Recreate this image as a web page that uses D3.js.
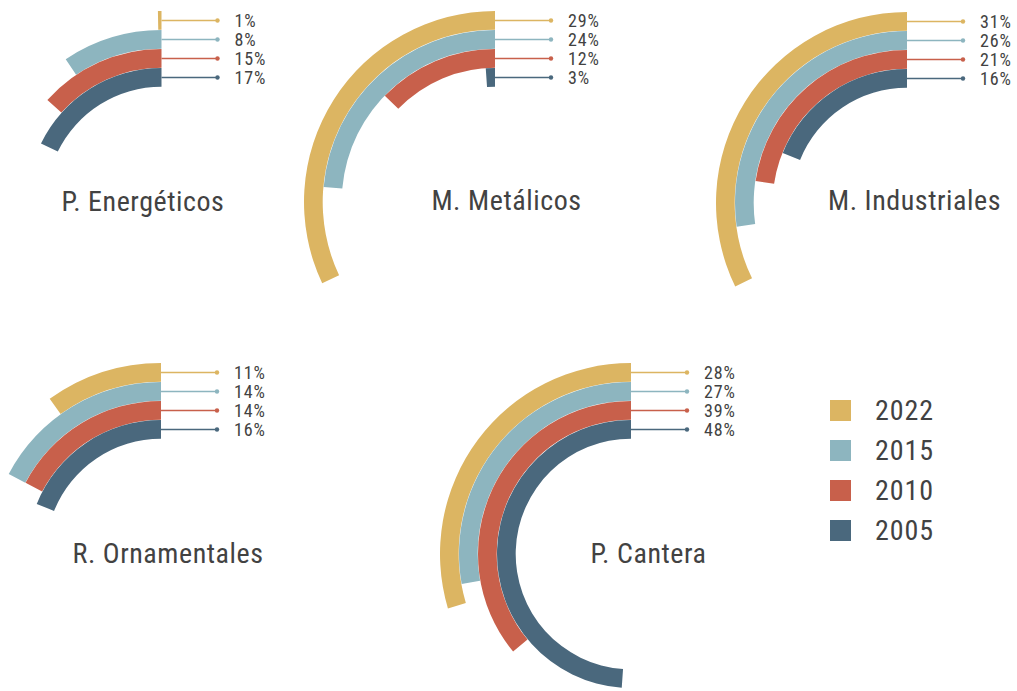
<!DOCTYPE html>
<html><head><meta charset="utf-8">
<script src="https://cdn.jsdelivr.net/npm/d3@7"></script>
<style>
html,body{margin:0;padding:0;background:#fff;}
text{font-family:"Roboto Condensed",Roboto,"Liberation Sans",sans-serif;fill:#424242;letter-spacing:0.9px;}
text.title{letter-spacing:0.55px;}
</style></head>
<body><svg id="c" width="1017" height="691"></svg>
<script>
// ---- data ----
const categories = ["P. Energéticos","M. Metálicos","M. Industriales","R. Ornamentales","P. Cantera"];
const years = ["2022","2015","2010","2005"];
const colors = ["#DCB562","#8DB5BF","#C8604B","#4A687D"];
// printed percentage labels
const pct2022 = [1, 29, 31, 11, 28];
const pct2015 = [8, 24, 26, 14, 27];
const pct2010 = [15, 12, 21, 14, 39];
const pct2005 = [17, 3, 16, 16, 48];
// arc length as share of a full turn (%)
const arc2022 = [0.3, 32.0, 32.2, 9.9, 29.6];
const arc2015 = [9.4, 23.6, 27.2, 17.3, 27.8];
const arc2010 = [13.4, 12.8, 22.7, 17.3, 36.0];
const arc2005 = [17.8, 1.1, 18.9, 18.9, 48.9];

// ---- layout (not data) ----
const centers = [[161.5,202],[495,202],[907,203],[161,554],[631,554]];
const titleX = [143, 506.5, 914.5, 168, 648.5];
const titleY = [211, 210, 210, 563, 563];

const pctBy = [pct2022, pct2015, pct2010, pct2005];
const arcBy = [arc2022, arc2015, arc2010, arc2005];

const svg = d3.select("#c");
const angle = d3.scaleLinear().domain([0,100]).range([0, 2*Math.PI]);
const radius = d3.scaleBand().domain(years).range([191,115]).paddingInner(0);
const color = d3.scaleOrdinal().domain(years).range(colors);
const bw = radius.bandwidth();
const arc = d3.arc();

categories.forEach((cat, ci) => {
  const [cx, cy] = centers[ci];
  const g = svg.append("g").attr("transform", `translate(${cx},${cy})`);
  const rows = years.map((y, yi) => ({year: y, pct: pctBy[yi][ci], arc: arcBy[yi][ci]}));
  g.selectAll("path.band").data(rows).join("path")
    .attr("class","band")
    .attr("fill", d => color(d.year))
    .attr("d", d => arc({innerRadius: radius(d.year)+0.3, outerRadius: radius(d.year)+bw,
                         startAngle: 0, endAngle: -angle(d.arc)}));
  const lead = g.selectAll("g.lead").data(rows).join("g").attr("class","lead")
    .attr("transform", d => `translate(0,${-(radius(d.year)+bw/2)})`);
  lead.append("line").attr("x1",0).attr("x2",56).attr("y1",0).attr("y2",0)
    .attr("stroke", d => color(d.year)).attr("stroke-width",1.4);
  lead.append("circle").attr("cx",56).attr("cy",0).attr("r",2.2).attr("fill", d => color(d.year));
  lead.append("text").attr("x",73).attr("y",6)
    .attr("font-size",18).text(d => d.pct + "%");
  svg.append("text").attr("class","title")
    .attr("x", titleX[ci]).attr("y", titleY[ci])
    .attr("text-anchor","middle").attr("font-size",28).text(cat);
});

// legend
const leg = svg.append("g").attr("transform","translate(830,400)");
const li = leg.selectAll("g").data(years).join("g")
  .attr("transform", (d,i) => `translate(0,${i*40})`);
li.append("rect").attr("width",21).attr("height",21).attr("fill", d => color(d));
li.append("text").attr("x",45).attr("y",20)
  .attr("font-size",28).text(d => d);
</script></body></html>
